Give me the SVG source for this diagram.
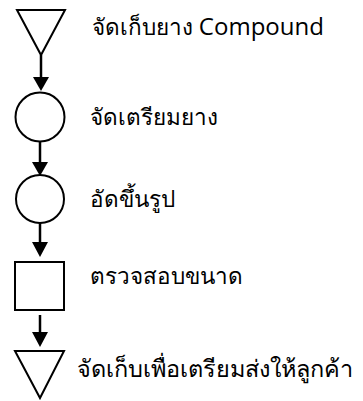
<svg xmlns="http://www.w3.org/2000/svg" width="363" height="401" viewBox="0 0 363 401">
<defs>
<style>
.s{fill:#fff;stroke:#000;stroke-width:2}
.t{font-family:"Noto Sans","DejaVu Sans",sans-serif;font-size:22.5px;fill:#000}
.l{font-family:"Open Sans","Noto Sans",sans-serif;font-size:24px}
.c{stroke:#000;stroke-width:2.5;fill:none}
.a{fill:#000}
</style>
</defs>
<g id="connectors">
<line class="c" x1="41" y1="55" x2="41" y2="80"/><path class="a" d="M33,77 L49,77 L41,91 Z"/>
<line class="c" x1="40" y1="142" x2="40" y2="165"/><path class="a" d="M32,162 L48,162 L40,176 Z"/>
<line class="c" x1="40" y1="223" x2="40" y2="245"/><path class="a" d="M32,242 L48,242 L40,257 Z"/>
<line class="c" x1="40" y1="315" x2="40" y2="335"/><path class="a" d="M32,332 L48,332 L40,347 Z"/>
</g>
<g id="n1"><path class="s" d="M17,10 L65,10 L41,55 Z"/><text class="t" x="92" y="35">จัดเก็บยาง <tspan class="l">Compound</tspan></text></g>
<g id="n2"><circle class="s" cx="40" cy="117" r="24.5"/><text class="t" x="90" y="125">จัดเตรียมยาง</text></g>
<g id="n3"><circle class="s" cx="40" cy="199" r="24"/><text class="t" x="90" y="207">อัดขึ้นรูป</text></g>
<g id="n4"><rect class="s" x="15" y="262" width="49" height="48"/><text class="t" x="90" y="284">ตรวจสอบขนาด</text></g>
<g id="n5"><path class="s" d="M15,351 L64,351 L40,398 Z"/><text class="t" x="77" y="377" style="font-size:23.5px">จัดเก็บเพื่อเตรียมส่งให้ลูกค้า</text></g>
</svg>
